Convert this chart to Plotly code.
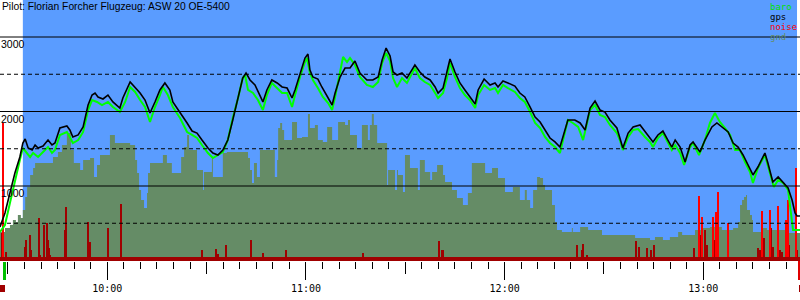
import plotly.graph_objects as go

# time in minutes after 09:00, altitude in metres
gps_time = [27.6, 29.1, 30.6, 32.1, 33.6, 34.5, 35.2, 36.1, 37.3, 38.2, 39.1, 40.6, 42.1, 43.3, 44.2, 45.7, 47.8, 48.7, 49.6, 51.2,
            52.7, 54.2, 55.4, 56.3, 57.2, 58.7, 60.2, 61.7, 63.8, 64.7, 66.9, 68.4, 69.9, 71.4, 72.9, 74.4, 75.9, 77.4, 78.9, 79.8,
            81.96, 84.1, 85.6, 87.1, 88.6, 90.4, 91.9, 93.4, 94.9, 96.4, 97.9, 99.5, 100.9, 101.9, 103.1, 104.6, 106.1, 107.0, 108.2, 109.7,
            111.3, 112.8, 114.3, 115.8, 116.7, 118.2, 119.7, 120.6, 121.2, 122.1, 123.6, 124.8, 126.4, 127.9, 128.8, 130.3, 131.8, 133.3, 134.8, 136.3,
            138.4, 140.2, 141.8, 143.0, 144.2, 145.4, 146.3, 147.5, 149.0, 150.5, 152.9, 154.4, 155.9, 157.5, 159.0, 159.9, 161.4, 162.6, 163.5, 165.0,
            166.5, 168.0, 169.5, 171.1, 172.0, 173.8, 175.6, 177.1, 178.0, 179.5, 181.0, 183.1, 184.6, 186.1, 187.7, 189.2, 190.7, 192.2, 193.7, 195.2,
            196.7, 197.6, 199.1, 201.2, 202.8, 204.3, 205.8, 207.3, 208.8, 210.3, 211.8, 213.9, 214.8, 215.7, 217.3, 218.8, 220.9, 222.4, 223.9, 224.8,
            226.3, 227.8, 229.3, 230.5, 231.5, 233.0, 234.5, 236.0, 236.9, 239.0, 240.5, 242.6, 244.1, 245.6, 247.5, 249.0, 250.5, 252.0, 253.5, 255.0,
            256.5, 258.6, 259.5, 261.0, 262.6, 264.1, 265.6, 266.8, 267.7, 268.3, 269.2]
gps_alt = [450, 638, 906, 1175, 1389, 1577, 1631, 1510, 1483, 1550, 1510, 1537, 1617, 1550, 1577, 1779, 1805, 1752, 1658, 1685,
           1792, 2087, 2221, 2248, 2195, 2168, 2221, 2128, 2047, 2181, 2396, 2329, 2248, 2154, 1980, 2128, 2289, 2383, 2289, 2128,
           1993, 1846, 1738, 1711, 1617, 1510, 1443, 1416, 1483, 1617, 1886, 2195, 2449, 2517, 2423, 2356, 2221, 2128, 2289, 2423,
           2383, 2329, 2315, 2181, 2289, 2517, 2718, 2772, 2557, 2463, 2436, 2329, 2195, 2087, 2248, 2463, 2584, 2584, 2678, 2517,
           2423, 2423, 2463, 2691, 2852, 2745, 2530, 2490, 2517, 2449, 2624, 2530, 2463, 2423, 2329, 2248, 2315, 2517, 2705, 2530,
           2383, 2289, 2195, 2101, 2289, 2436, 2356, 2383, 2329, 2409, 2383, 2342, 2248, 2195, 2060, 1926, 1859, 1752, 1644, 1591,
           1523, 1658, 1886, 1886, 1846, 1752, 2047, 2141, 2020, 1993, 1886, 1779, 1658, 1510, 1711, 1792, 1819, 1725, 1644, 1591,
           1685, 1738, 1617, 1523, 1617, 1523, 1322, 1550, 1591, 1456, 1617, 1792, 1846, 1792, 1725, 1577, 1523, 1416, 1282, 1148,
           1255, 1443, 1309, 1054, 1121, 1054, 973, 812, 638, 597, 597]

baro_time = [27.6, 29.1, 30.6, 32.1, 33.6, 34.5, 35.8, 36.7, 37.6, 39.1, 40.6, 42.1, 43.3, 44.2, 45.7, 47.8, 48.7, 49.6, 51.2, 52.7,
             54.2, 55.4, 56.9, 58.4, 60.2, 61.7, 63.8, 65.4, 66.9, 68.4, 69.9, 71.4, 72.9, 74.4, 75.9, 76.8, 78.3, 79.8, 81.96, 84.1,
             85.6, 87.1, 88.6, 90.4, 91.9, 93.4, 94.9, 96.4, 97.9, 99.5, 100.9, 101.6, 102.5, 104.0, 105.5, 107.0, 108.2, 109.7, 111.3, 112.8,
             114.3, 115.8, 116.7, 118.2, 119.7, 120.3, 121.2, 122.1, 123.6, 125.1, 126.7, 127.9, 128.8, 130.3, 131.2, 132.4, 133.3, 134.8, 136.3, 138.4,
             140.2, 141.8, 143.0, 144.2, 145.4, 146.3, 147.5, 149.0, 150.5, 152.9, 154.4, 155.9, 157.5, 159.0, 159.9, 161.4, 162.6, 163.5, 165.0, 166.5,
             168.0, 169.5, 171.1, 172.0, 173.8, 175.6, 177.1, 178.0, 179.5, 181.0, 183.1, 184.6, 186.1, 187.7, 189.2, 190.7, 192.2, 193.7, 195.2, 196.7,
             197.6, 199.1, 200.6, 202.2, 203.7, 204.3, 205.8, 207.3, 208.8, 210.3, 211.8, 213.9, 214.8, 215.7, 217.3, 218.8, 220.3, 222.4, 223.9, 224.8,
             226.3, 227.8, 229.3, 230.5, 231.5, 233.0, 234.2, 236.0, 236.9, 238.7, 240.5, 242.0, 243.5, 245.0, 246.5, 248.1, 249.6, 251.1, 252.6, 254.1,
             255.0, 256.5, 258.6, 260.1, 261.3, 262.6, 264.1, 265.6, 266.2, 266.8, 267.1, 269.2]
baro_alt = [383, 477, 772, 1081, 1349, 1510, 1443, 1389, 1443, 1389, 1456, 1523, 1443, 1483, 1685, 1725, 1658, 1577, 1617, 1725,
            2020, 2154, 2128, 2087, 2128, 2060, 1993, 2128, 2329, 2262, 2154, 2060, 1859, 2060, 2221, 2329, 2221, 2060, 1913, 1725,
            1685, 1644, 1550, 1443, 1376, 1416, 1456, 1617, 1913, 2181, 2449, 2490, 2289, 2248, 2154, 2020, 2221, 2383, 2315, 2248,
            2248, 2060, 2221, 2463, 2664, 2718, 2517, 2423, 2315, 2195, 2114, 2020, 2195, 2517, 2732, 2664, 2718, 2624, 2463, 2356,
            2329, 2396, 2651, 2785, 2678, 2449, 2329, 2449, 2383, 2584, 2449, 2396, 2356, 2248, 2181, 2248, 2449, 2651, 2463, 2315,
            2221, 2154, 2047, 2221, 2356, 2289, 2315, 2248, 2356, 2315, 2262, 2181, 2128, 1993, 1846, 1779, 1658, 1577, 1523, 1443,
            1617, 1886, 1846, 1792, 1617, 1725, 2020, 2087, 1953, 1926, 1819, 1711, 1617, 1483, 1658, 1752, 1765, 1658, 1591, 1523,
            1644, 1711, 1577, 1483, 1550, 1443, 1282, 1523, 1577, 1416, 1617, 1846, 1980, 1859, 1779, 1685, 1483, 1483, 1322, 1188,
            1040, 1242, 1416, 1188, 987, 1081, 1040, 946, 718, 450, 409, 409]

gnd_time = [27.6, 29.1, 30.6, 31.5, 32.4, 33.0, 33.9, 34.5, 35.2, 35.8, 36.7, 37.6, 38.2, 41.2, 43.6, 45.1, 46.3, 47.8, 49.0, 49.9,
            51.8, 52.7, 54.8, 56.0, 56.9, 57.8, 60.8, 62.3, 66.9, 68.4, 69.0, 69.6, 70.2, 71.1, 72.0, 72.3, 72.9, 76.8, 78.0, 79.5,
            82.3, 83.2, 84.1, 84.7, 87.1, 88.9, 89.2, 91.6, 91.9, 94.9, 96.1, 102.5, 103.1, 103.7, 104.3, 105.2, 106.1, 110.3, 110.6, 111.3,
            111.6, 112.2, 112.8, 113.4, 115.8, 117.3, 118.8, 120.6, 121.2, 122.7, 123.6, 125.1, 126.4, 127.9, 129.7, 131.8, 132.7, 133.3, 135.4, 136.9,
            138.7, 139.3, 139.9, 140.5, 141.5, 144.2, 144.5, 144.8, 146.3, 146.9, 147.5, 147.8, 149.3, 149.9, 151.4, 153.8, 154.4, 155.9, 157.5, 158.1,
            159.6, 161.4, 162.0, 164.1, 165.6, 167.4, 168.9, 170.1, 174.1, 176.2, 178.0, 180.1, 182.5, 184.6, 186.1, 186.7, 187.7, 188.6, 189.8, 190.7,
            191.6, 192.2, 194.3, 195.2, 195.8, 197.3, 200.3, 200.6, 202.8, 205.2, 209.4, 219.4, 223.9, 225.4, 227.8, 229.9, 232.4, 233.6, 237.5, 239.6,
            242.0, 245.6, 249.0, 250.5, 251.1, 251.7, 252.3, 252.9, 253.2, 254.1, 254.7, 255.0, 257.7, 259.2, 265.6, 269.2]
gnd_alt = [383, 436, 477, 544, 517, 611, 571, 678, 852, 987, 1148, 1242, 1309, 1309, 1389, 1456, 1550, 1711, 1483, 1309,
           1215, 1349, 1376, 1121, 1282, 1416, 1685, 1577, 1550, 1349, 1175, 946, 812, 705, 906, 1175, 1309, 1416, 1309, 1175,
           1389, 1523, 1685, 1483, 1215, 946, 1188, 1376, 1121, 1443, 1456, 1376, 1215, 1040, 1309, 1121, 1483, 1483, 1121, 1349,
           1779, 1846, 1752, 1617, 1859, 1644, 1658, 1966, 1779, 1819, 1617, 1591, 1792, 1617, 1859, 1819, 1886, 1685, 1510, 1819,
           1617, 1819, 1966, 1819, 1577, 1577, 1014, 1215, 1215, 946, 1215, 1148, 919, 1416, 1242, 946, 1349, 1188, 1081, 1188,
           1282, 1148, 1054, 946, 839, 745, 906, 1309, 1175, 1242, 1107, 919, 987, 812, 946, 812, 705, 946, 1121, 1107,
           1014, 946, 745, 517, 409, 383, 436, 383, 450, 409, 342, 302, 275, 315, 275, 315, 383, 342, 409, 436,
           450, 409, 436, 517, 745, 812, 852, 879, 678, 611, 544, 383, 436, 409, 369, 369]

noise_time = [28.2, 29.4, 35.2, 35.5, 36.7, 37.0, 39.4, 39.7, 40.9, 41.8, 42.1, 42.4, 42.7, 47.2, 47.5, 54.2, 54.8, 60.2, 64.1, 88.6,
              92.8, 93.4, 95.8, 103.4, 107.0, 114.0, 137.2, 160.2, 161.1, 161.4, 201.9, 203.4, 203.7, 204.9, 219.7, 220.6, 223.0, 224.2, 225.1, 237.2,
              238.7, 239.0, 240.5, 241.1, 243.2, 244.1, 247.5, 256.5, 257.1, 258.3, 260.4, 261.0, 263.2, 263.8, 265.9, 268.0, 268.3]
noise_val = [369, 114, 181, 275, 342, 141, 571, 74, 477, 503, 275, 168, 74, 409, 718, 517, 248, 436, 758, 141,
             154, 87, 208, 275, 101, 141, 101, 262, 141, 141, 208, 141, 221, 74, 262, 181, 168, 141, 208, 168,
             342, 342, 409, 208, 275, 141, 114, 168, 141, 302, 436, 181, 141, 114, 208, 275, 141]

noise_peak_time = [28.5, 238.7, 239.6, 242.9, 243.8, 244.4, 247.5, 257.7, 260.1, 262.6, 265.0, 265.6, 268.0]
noise_peak_val = [1846, 866, 584, 584, 651, 919, 503, 664, 678, 732, 544, 812, 1242]

hour_ticks = [60, 120, 180, 240]
hour_labels = ["10:00", "11:00", "12:00", "13:00"]
half_hour_ticks = [30, 90, 150, 210]
y_labels = [1000, 2000, 3000]
y_dashed = [500, 1500, 2500]

X_RANGE = [27.6, 269.2]
Y_RANGE = [-6.7, 3496.6]
SKY = "#5a9cff"
GND = "#658c66"
DARKRED = "#a00000"

fig = go.Figure()
# ground on the base subplot
fig.add_trace(go.Scatter(x=gnd_time, y=gnd_alt, mode="lines", line=dict(width=0, shape="hv"),
                         fill="tozeroy", fillcolor=GND, name="gnd", hoverinfo="skip"))
# noise and altitude lines on the overlaying subplot (drawn above the ground)
fig.add_trace(go.Bar(x=noise_time, y=noise_val, width=0.45, marker=dict(color=DARKRED, line=dict(width=0)),
                     name="noise-low", hoverinfo="skip", xaxis="x2"))
fig.add_trace(go.Bar(x=noise_peak_time, y=noise_peak_val, width=0.45, marker=dict(color="#ff0000", line=dict(width=0)),
                     name="noise", hoverinfo="skip", xaxis="x2"))
fig.add_trace(go.Scatter(x=baro_time, y=baro_alt, mode="lines", line=dict(color="#00ff00", width=2), name="baro",
                         xaxis="x2"))
fig.add_trace(go.Scatter(x=gps_time, y=gps_alt, mode="lines", line=dict(color="#000000", width=1.6), name="gps",
                         xaxis="x2"))

shapes = []
# sky background (flight period)
shapes.append(dict(type="rect", xref="x", yref="paper", x0=34.5, x1=268.3, y0=0, y1=1,
                   fillcolor=SKY, line=dict(width=0), layer="below"))
for v in y_labels:
    shapes.append(dict(type="line", xref="paper", yref="y", x0=0, x1=1, y0=v, y1=v,
                       line=dict(color="black", width=1), layer="above"))
for v in y_dashed:
    shapes.append(dict(type="line", xref="paper", yref="y", x0=0, x1=1, y0=v, y1=v,
                       line=dict(color="black", width=1, dash="4px,3px"), layer="above"))
# baseline band
shapes.append(dict(type="rect", xref="paper", yref="paper", x0=0, x1=1, y0=0, y1=4 / 261,
                   fillcolor=DARKRED, line=dict(width=0), layer="above"))
# small markers below the axis
shapes.append(dict(type="rect", xref="paper", yref="paper", x0=3 / 800, x1=6 / 800, y0=-19 / 261, y1=-1 / 261,
                   fillcolor="#00c000", line=dict(width=0)))
shapes.append(dict(type="rect", xref="paper", yref="paper", x0=0, x1=5 / 800, y0=-31 / 261, y1=-24 / 261,
                   fillcolor=DARKRED, line=dict(width=0)))
shapes.append(dict(type="rect", xref="paper", yref="paper", x0=798 / 800, x1=1, y0=-19 / 261, y1=0,
                   fillcolor="#e00000", line=dict(width=0)))
shapes.append(dict(type="rect", xref="paper", yref="paper", x0=799 / 800, x1=1, y0=-31 / 261, y1=-24 / 261,
                   fillcolor=DARKRED, line=dict(width=0)))

annotations = []
annotations.append(dict(text="Pilot: Florian Forcher Flugzeug: ASW 20 OE-5400", xref="paper", yref="paper",
                        x=0, y=1, xanchor="left", yanchor="top", yshift=1, showarrow=False,
                        font=dict(family="Liberation Sans", size=10.3, color="black")))
for v in y_labels:
    annotations.append(dict(text=str(v), xref="paper", yref="y", x=0, y=v, xanchor="left", yanchor="top",
                            xshift=-1, yshift=1, showarrow=False,
                            font=dict(family="Liberation Sans", size=10.5, color="black")))
legend_items = [("baro", "#00e000"), ("gps", "#000000"), ("noise", "#ff0000"), ("gnd", GND)]
for i, (name, col) in enumerate(legend_items):
    annotations.append(dict(text=name, xref="paper", yref="paper", x=769 / 800, y=(261 - (7 + 10 * i)) / 261,
                            xanchor="left", yanchor="middle", showarrow=False, borderpad=0,
                            font=dict(family="DejaVu Sans Mono", size=9, color=col)))

fig.update_layout(
    width=800, height=300,
    margin=dict(l=0, r=0, t=0, b=39, pad=0),
    paper_bgcolor="white", plot_bgcolor="white",
    showlegend=False, barmode="overlay", bargap=0,
    shapes=shapes, annotations=annotations,
    xaxis=dict(range=X_RANGE, tickmode="array", tickvals=hour_ticks, ticktext=hour_labels,
               ticks="outside", ticklen=18, tickwidth=1, tickcolor="black",
               tickfont=dict(family="DejaVu Sans Mono", size=10, color="black"),
               showgrid=False, zeroline=False, showline=False, fixedrange=True,
               minor=dict(tickmode="array", tickvals=[m for m in range(30, 270, 5)],
                          ticks="outside", ticklen=7, tickwidth=1, tickcolor="black", showgrid=False)),
    xaxis2=dict(overlaying="x", matches="x", anchor="y", side="bottom", range=X_RANGE,
                tickmode="array", tickvals=half_hour_ticks, ticks="outside", ticklen=12, tickwidth=1,
                tickcolor="black", showticklabels=False, showgrid=False, zeroline=False, showline=False),
    yaxis=dict(range=Y_RANGE, showgrid=False, zeroline=False, showticklabels=False, ticks="",
               showline=False, fixedrange=True),
)

fig.write_html("out.html")
